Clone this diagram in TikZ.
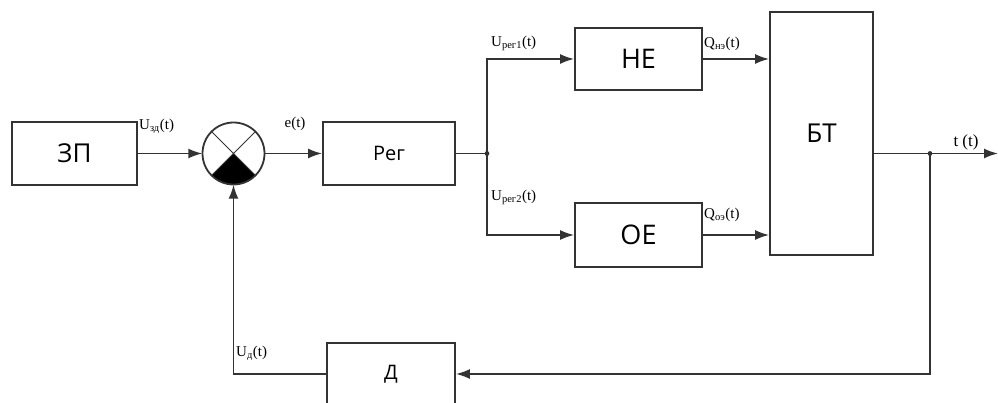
\documentclass[tikz,border=0pt]{standalone}
\usepackage{fontspec}
\setmainfont{Liberation Serif}
\newfontfamily\boxfont{Open Sans}
\usetikzlibrary{arrows.meta}
\definecolor{ln}{HTML}{333333}
\begin{document}
\begin{tikzpicture}[x=1pt,y=-1pt,
  blk/.style={draw=ln,line width=1.8pt,inner sep=0pt,font=\boxfont},
  con/.style={draw=ln,line width=1.8pt,-{Latex[length=14pt,width=10pt]}},
  wire/.style={draw=ln,line width=1.8pt},
  lbl/.style={font=\fontsize{15}{15}\selectfont,inner sep=0pt}]
\useasboundingbox (0,0) rectangle (998,403);
% blocks
\node[blk,minimum width=125,minimum height=63,font=\boxfont\fontsize{26}{26}\selectfont] (zp) at (74.5,153.5) {ЗП};
\node[blk,minimum width=132,minimum height=63,font=\boxfont\fontsize{20}{20}\selectfont] (reg) at (389,153.5) {Рег};
\node[blk,minimum width=127,minimum height=62,font=\boxfont\fontsize{27}{27}\selectfont] (ne) at (638.5,59) {НЕ};
\node[blk,minimum width=127,minimum height=64,font=\boxfont\fontsize{27}{27}\selectfont] (oe) at (638.5,235) {ОЕ};
\node[blk,minimum width=103,minimum height=243,font=\boxfont\fontsize{26}{26}\selectfont] (bt) at (821.5,133.5) {БТ};
\node[blk,minimum width=128,minimum height=62,font=\boxfont\fontsize{20}{20}\selectfont] (d) at (391,374) {Д};
% summing junction
\node[circle,minimum size=62,inner sep=0pt] (s) at (233.5,153.5) {};
\fill[black] (s.center) -- (s.south east) arc[start angle=45,end angle=135,radius=31] -- cycle;
\draw[ln,line width=1pt] (s.north west) -- (s.south east) (s.north east) -- (s.south west);
\draw[ln,line width=1.8pt] (s.center) circle[radius=31];
% coordinates
\coordinate (b1) at (487,153.5);
\coordinate (b2) at (930,153.5);
\coordinate (out) at (998,153.5);
% connectors
\draw[con] (zp.east) -- (s.west);
\draw[con] (s.east) -- (reg.west);
\draw[wire] (reg.east) -- (b1);
\fill[ln] (b1) circle[radius=2.4];
\draw[con] (b1) |- (ne.west);
\draw[con] (b1) |- (oe.west);
\draw[con] (ne.east) -- (bt.west |- ne.east);
\draw[con] (oe.east) -- (bt.west |- oe.east);
\draw[con] (bt.east |- b2) -- (out);
\fill[ln] (b2) circle[radius=2.4];
\draw[con] (b2) |- (d.east);
\draw[con] (d.west) -| (s.south);
% labels
\node[lbl,anchor=south west] (l1) at (139,134) {U\textsubscript{зд}(t)};
\node[lbl,anchor=south] (l2) at (295,131) {e(t)};
\node[lbl,anchor=south west] (l3) at (491,51) {U\textsubscript{рег1}(t)};
\node[lbl,anchor=south west] (l4) at (704,51) {Q\textsubscript{нэ}(t)};
\node[lbl,anchor=south west] (l5) at (491,205) {U\textsubscript{рег2}(t)};
\node[lbl,anchor=south west] (l6) at (704,222) {Q\textsubscript{оэ}(t)};
\node[lbl,anchor=south west] (l7) at (236,361) {U\textsubscript{д}(t)};
\node[lbl,anchor=south,font=\fontsize{17}{17}\selectfont] (l8) at (966,150) {t (t)};
\end{tikzpicture}
\end{document}
